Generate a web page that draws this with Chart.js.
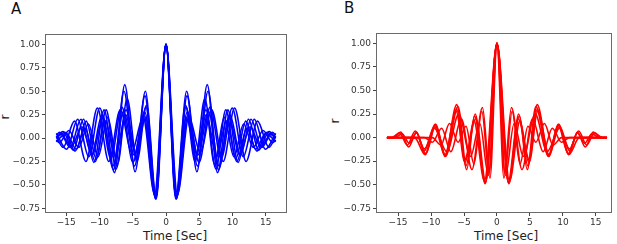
<!DOCTYPE html>
<html>
<head>
<meta charset="utf-8">
<script src="https://cdn.jsdelivr.net/npm/chart.js@4.4.0/dist/chart.umd.min.js"></script>
<style>
  body { margin: 0; background: #fff; width: 617px; height: 244px; position: relative; overflow: hidden; font-family: "DejaVu Sans", sans-serif; color: #222; }
  .panel { position: absolute; top: 0; height: 244px; }
  .tag { position: absolute; font-size: 15px; line-height: 15px; color: #111; }
  .lbl { position: absolute; font-size: 12px; line-height: 12px; white-space: nowrap; transform: translate(-50%, -50%); }
  .ylbl { transform: translate(-50%, -50%) rotate(-90deg); }
</style>
</head>
<body>
<div class="tag" style="left:11px;top:2px">A</div>
<div class="tag" style="left:344px;top:1px">B</div>
<div class="lbl ylbl" style="left:5px;top:117px">r</div>
<div class="lbl ylbl" style="left:335px;top:121px">r</div>
<div class="lbl" style="left:175px;top:236px">Time [Sec]</div>
<div class="lbl" style="left:506px;top:236px">Time [Sec]</div>
<div class="panel" style="left:0;width:300px"><canvas id="chartA" width="300" height="244"></canvas></div>
<div class="panel" style="left:310px;width:307px"><canvas id="chartB" width="307" height="244"></canvas></div>

<script>
// tick labels
const xTicks = [-15, -10, -5, 0, 5, 10, 15];
const yTicks = [-0.75, -0.5, -0.25, 0, 0.25, 0.5, 0.75, 1.0];

// panel A (blue): lag times of peaks/troughs and r at those lags
const aT1 = [-16.5,-15.5,-13.95,-12.4,-10.85,-9.3,-7.75,-6.2,-4.65,-3.1,-1.55,0,1.55,3.1,4.65,6.2,7.75,9.3,10.85,12.4,13.95,15.5,16.5];
const aR1 = [0,0.07,-0.13,0.2,-0.26,0.3,-0.37,0.57,-0.36,0.5,-0.65,1,-0.65,0.5,-0.36,0.57,-0.37,0.3,-0.26,0.2,-0.13,0.07,0];
const aT2 = [-16.5,-15,-13.5,-12,-10.5,-9,-7.5,-6,-4.5,-3,-1.5,0,1.5,3,4.5,6,7.5,9,10.5,12,13.5,15,16.5];
const aR2 = [-0.04,0.05,-0.12,0.18,-0.22,0.3,-0.33,0.3,-0.2,0.33,-0.64,1,-0.64,0.33,-0.2,0.3,-0.33,0.3,-0.22,0.18,-0.12,0.05,-0.04];
const aT3 = [-16.5,-16,-14.4,-12.8,-11.2,-9.6,-8,-6.4,-4.8,-3.2,-1.6,0,1.6,3.2,4.8,6.4,8,9.6,11.2,12.8,14.4,16,16.5];
const aR3 = [0.03,0.06,-0.1,0.2,-0.18,0.25,-0.3,0.28,-0.18,0.28,-0.63,1,-0.63,0.28,-0.18,0.28,-0.3,0.25,-0.18,0.2,-0.1,0.06,0.03];
const aT4 = [-16.5,-14.94,-13.28,-11.62,-9.96,-8.3,-6.64,-4.98,-3.32,-1.66,0,1.66,3.32,4.98,6.64,8.3,9.96,11.62,13.28,14.94,16.5];
const aR4 = [0.05,-0.12,0.2,-0.2,0.32,-0.22,0.33,-0.26,0.24,-0.62,1,-0.62,0.24,-0.26,0.33,-0.22,0.32,-0.2,0.2,-0.12,0.05];
const aT5 = [-16.5,-15.48,-13.76,-12.04,-10.32,-8.6,-6.88,-5.16,-3.44,-1.72,0,1.72,3.44,5.16,6.88,8.6,10.32,12.04,13.76,15.48,16.5];
const aR5 = [0.02,-0.1,0.18,-0.25,0.32,-0.25,0.3,-0.15,0.22,-0.6,1,-0.6,0.22,-0.15,0.3,-0.25,0.32,-0.25,0.18,-0.1,0.02];
const aT6 = [-16.5,-16.06,-14.6,-13.14,-11.68,-10.22,-8.76,-7.3,-5.84,-4.38,-2.92,-1.46,0,1.46,2.92,4.38,5.84,7.3,8.76,10.22,11.68,13.14,14.6,16.06,16.5];
const aR6 = [-0.02,-0.05,0.08,-0.1,0.15,-0.2,0.22,-0.28,0.42,-0.25,0.35,-0.65,1,-0.65,0.35,-0.25,0.42,-0.28,0.22,-0.2,0.15,-0.1,0.08,-0.05,-0.02];
const aT7 = [-16.5,-15.8,-14.22,-12.64,-11.06,-9.48,-7.9,-6.32,-4.74,-3.16,-1.58,0,1.58,3.16,4.74,6.32,7.9,9.48,11.06,12.64,14.22,15.8,16.5];
const aR7 = [0,0.04,-0.09,0.12,-0.18,0.22,-0.34,0.5,-0.3,0.45,-0.65,1,-0.65,0.45,-0.3,0.5,-0.34,0.22,-0.18,0.12,-0.09,0.04,0];
const aT8 = [-16.5,-15.2,-13.68,-12.16,-10.64,-9.12,-7.6,-6.08,-4.56,-3.04,-1.52,0,1.52,3.04,4.56,6.08,7.6,9.12,10.64,12.16,13.68,15.2,16.5];
const aR8 = [0,0.06,-0.14,0.1,-0.25,0.18,-0.2,0.25,-0.16,0.22,-0.64,1,-0.64,0.22,-0.16,0.25,-0.2,0.18,-0.25,0.1,-0.14,0.06,0];

// panel B (red)
const bT1 = [-16.7,-15.7,-14.6,-13.4,-12.2,-10.9,-9.4,-7.9,-6.1,-4.7,-3.3,-1.8,0,1.8,3.3,4.7,6.1,7.9,9.4,10.9,12.2,13.4,14.6,15.7,16.7];
const bR1 = [0,0,0.06,-0.1,0.06,-0.18,0.14,-0.2,0.35,-0.3,0.25,-0.49,1,-0.49,0.25,-0.3,0.35,-0.2,0.14,-0.18,0.06,-0.1,0.06,0,0];
const bT2 = [-16.7,-11,-9.8,-8.4,-7,-5.4,-3.8,-2.2,-1.06,0,1.06,2.2,3.8,5.4,7,8.4,9.8,11,16.7];
const bR2 = [0,0,-0.05,0.1,-0.15,0.2,-0.34,0.32,-0.43,1,-0.43,0.32,-0.34,0.2,-0.15,0.1,-0.05,0,0];
const bT3 = [-16.7,-12,-10.8,-9.3,-7.8,-6.1,-5,-3.2,-1.7,0,1.7,3.2,5,6.1,7.8,9.3,10.8,12,16.7];
const bR3 = [0,0,-0.17,0.13,-0.19,0.3,-0.25,0.2,-0.47,1,-0.47,0.2,-0.25,0.3,-0.19,0.13,-0.17,0,0];
const bT4 = [-16.7,-16,-14.8,-13.6,-12.4,-11,-9.5,-7.6,-5.8,-4,-2.6,-1.3,0,1.3,2.6,4,5.8,7.6,9.5,11,12.4,13.6,14.8,16,16.7];
const bR4 = [0,0,0.05,-0.08,0.07,-0.12,0.1,-0.15,0.25,-0.2,0.15,-0.4,1,-0.4,0.15,-0.2,0.25,-0.15,0.1,-0.12,0.07,-0.08,0.05,0,0];
const bT5 = [-16.7,-12.5,-10.9,-9.3,-7.8,-5.9,-4.6,-3.4,-1.75,0,1.75,3.4,4.6,5.9,7.8,9.3,10.9,12.5,16.7];
const bR5 = [0,0,-0.18,0.14,-0.2,0.33,-0.34,0.23,-0.48,1,-0.48,0.23,-0.34,0.33,-0.2,0.14,-0.18,0,0];
const bT6 = [-16.7,-9.8,-8.5,-7.2,-5.9,-4.7,-3.5,-2.3,-1.2,0,1.2,2.3,3.5,4.7,5.9,7.2,8.5,9.8,16.7];
const bR6 = [0,0,-0.08,0.15,-0.05,0.12,-0.28,0.28,-0.38,1,-0.38,0.28,-0.28,0.12,-0.05,0.15,-0.08,0,0];
const bT7 = [-16.7,-15.5,-14.4,-13.3,-12.2,-11,-9.5,-7.9,-6.2,-4.8,-3.5,-1.9,0,1.9,3.5,4.8,6.2,7.9,9.5,11,12.2,13.3,14.4,15.5,16.7];
const bR7 = [0,0,0.04,-0.06,0.05,-0.14,0.12,-0.18,0.28,-0.26,0.18,-0.46,1,-0.46,0.18,-0.26,0.28,-0.18,0.12,-0.14,0.05,-0.06,0.04,0,0];

const blueSeries = [[aT1,aR1],[aT2,aR2],[aT3,aR3],[aT4,aR4],[aT5,aR5],[aT6,aR6],[aT7,aR7],[aT8,aR8]];
const redSeries = [[bT1,bR1],[bT2,bR2],[bT3,bR3],[bT4,bR4],[bT5,bR5],[bT6,bR6],[bT7,bR7]];

const minus = s => String(s).replace('-', '\u2212');

// axes box drawn on top of the lines, like matplotlib spines
const framePlugin = {
  id: 'frame',
  afterDraw(chart) {
    const { ctx, chartArea: a } = chart;
    ctx.save();
    ctx.strokeStyle = '#6a6a6a';
    ctx.lineWidth = 1;
    ctx.strokeRect(a.left - 0.5, a.top - 0.5, a.right - a.left + 1, a.bottom - a.top + 1);
    ctx.restore();
  }
};

function makeChart(id, series, color, opts) {
  const datasets = series.map(([t, r]) => ({
    data: t.map((x, i) => ({ x: x, y: r[i] })),
    borderColor: color,
    borderWidth: 1.6,
    pointRadius: 0,
    fill: false,
    cubicInterpolationMode: 'monotone'
  }));

  const tickFont = { family: 'DejaVu Sans', size: 9 };
  return new Chart(document.getElementById(id), {
    type: 'line',
    data: { datasets },
    options: {
      responsive: false,
      animation: false,
      layout: { padding: opts.padding },
      plugins: { legend: { display: false }, tooltip: { enabled: false } },
      scales: {
        x: {
          type: 'linear',
          min: opts.xMin,
          max: opts.xMax,
          afterBuildTicks: s => { s.ticks = xTicks.map(v => ({ value: v })); },
          afterFit: s => { s.height = 32; },
          ticks: { font: tickFont, color: '#333', padding: 1, maxRotation: 0, callback: v => minus(v) },
          grid: { drawOnChartArea: false, tickLength: 4, color: '#444' },
          border: { display: false }
        },
        y: {
          min: -0.79,
          max: 1.10,
          afterBuildTicks: s => { s.ticks = yTicks.map(v => ({ value: v })); },
          afterFit: s => { s.width = opts.yWidth; },
          ticks: { font: tickFont, color: '#333', padding: 2, callback: v => minus(v.toFixed(2)) },
          grid: { drawOnChartArea: false, tickLength: 4, color: '#444' },
          border: { display: false }
        }
      }
    },
    plugins: [framePlugin]
  });
}

makeChart('chartA', blueSeries, '#0000ff', {
  xMin: -18.05, xMax: 18.05, yWidth: 46,
  padding: { top: 35, right: 14, bottom: 0, left: 0 }
});
makeChart('chartB', redSeries, '#ff0000', {
  xMin: -18.2, xMax: 17.3, yWidth: 67,
  padding: { top: 34, right: 6, bottom: 0, left: 0 }
});
</script>
</body>
</html>
